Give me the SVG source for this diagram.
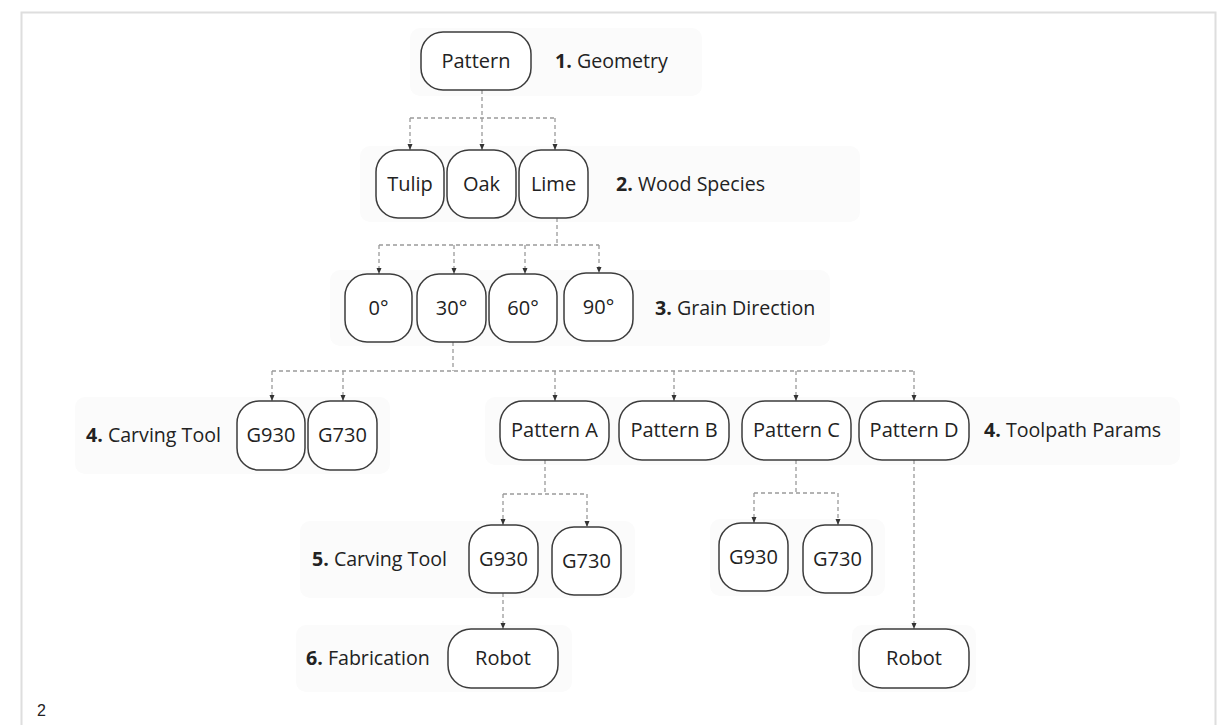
<svg xmlns="http://www.w3.org/2000/svg" width="1226" height="725" viewBox="0 0 1226 725">
<style>
.band{fill:#fbfbfb;}
.box{fill:#ffffff;stroke:#3c3c3c;stroke-width:1.5;}
.t{font-family:"Open Sans","Noto Sans",sans-serif;font-size:20px;fill:#222;text-anchor:middle;}
.lbl{font-family:"Open Sans","Noto Sans",sans-serif;font-size:19.6px;fill:#222;}
.lbl tspan.b{font-weight:bold;}
.c{fill:none;stroke:#9a9a9a;stroke-width:1.3;stroke-dasharray:4 3;}
.ca{fill:none;stroke:#9a9a9a;stroke-width:1.3;stroke-dasharray:4 3;marker-end:url(#ah);}
</style>
<defs>
<marker id="ah" viewBox="0 0 6 6" refX="6" refY="3" markerWidth="6" markerHeight="6" markerUnits="userSpaceOnUse" orient="auto">
<path d="M0,0.5 L6,3 L0,5.5 Z" fill="#333"/>
</marker>
</defs>
<rect x="0" y="0" width="1226" height="725" fill="#ffffff"/>
<path d="M21.5 725 V12.5 H1215.5 V725" fill="none" stroke="#dedede" stroke-width="2"/>
<g id="bands">
<rect class="band" x="410" y="28" width="292" height="68" rx="10"/>
<rect class="band" x="360" y="146" width="500" height="76" rx="10"/>
<rect class="band" x="330" y="270" width="500" height="76" rx="10"/>
<rect class="band" x="75" y="397" width="315" height="77" rx="10"/>
<rect class="band" x="485" y="397" width="695" height="68" rx="10"/>
<rect class="band" x="300" y="521" width="335" height="77" rx="10"/>
<rect class="band" x="710" y="519" width="175" height="77" rx="10"/>
<rect class="band" x="296" y="625" width="276" height="67" rx="10"/>
<rect class="band" x="852" y="625" width="124" height="67" rx="10"/>
</g>
<g id="connectors">
<path class="c" d="M482 90 V118 M410 118 H555"/>
<path class="ca" d="M410 118 V150"/>
<path class="ca" d="M482 118 V150"/>
<path class="ca" d="M555 118 V150"/>
<path class="c" d="M557 218 V245 M379 245 H599"/>
<path class="ca" d="M379 245 V274"/>
<path class="ca" d="M454 245 V274"/>
<path class="ca" d="M525 245 V274"/>
<path class="ca" d="M599 245 V273"/>
<path class="c" d="M453 342 V371 M272 371 H914"/>
<path class="ca" d="M272 371 V401"/>
<path class="ca" d="M343 371 V401"/>
<path class="ca" d="M555 371 V401"/>
<path class="ca" d="M674 371 V401"/>
<path class="ca" d="M796 371 V401"/>
<path class="ca" d="M914 371 V401"/>
<path class="c" d="M545 460 V494 M503 494 H587"/>
<path class="ca" d="M503 494 V525"/>
<path class="ca" d="M587 494 V527"/>
<path class="c" d="M796 460 V493 M754 493 H838"/>
<path class="ca" d="M754 493 V523"/>
<path class="ca" d="M838 493 V525"/>
<path class="ca" d="M503 593 V629"/>
<path class="ca" d="M914 460 V629"/>
</g>
<g id="n-pattern"><rect class="box" x="421" y="32" width="110" height="58" rx="22"/><text class="t" x="476" y="68">Pattern</text></g>
<g id="l-geometry"><text class="lbl" x="555" y="68"><tspan class="b">1.</tspan> Geometry</text></g>
<g id="n-tulip"><rect class="box" x="376" y="150" width="68" height="68" rx="22"/><text class="t" x="410" y="191">Tulip</text></g>
<g id="n-oak"><rect class="box" x="447" y="150" width="69" height="68" rx="22"/><text class="t" x="481.5" y="191">Oak</text></g>
<g id="n-lime"><rect class="box" x="519" y="150" width="69" height="68" rx="22"/><text class="t" x="553.5" y="191">Lime</text></g>
<g id="l-wood"><text class="lbl" x="616" y="191"><tspan class="b">2.</tspan> Wood Species</text></g>
<g id="n-0"><rect class="box" x="345" y="274" width="67" height="68" rx="22"/><text class="t" x="378.5" y="315">0°</text></g>
<g id="n-30"><rect class="box" x="417" y="274" width="69" height="68" rx="22"/><text class="t" x="451.5" y="315">30°</text></g>
<g id="n-60"><rect class="box" x="489" y="274" width="68" height="68" rx="22"/><text class="t" x="523" y="315">60°</text></g>
<g id="n-90"><rect class="box" x="564" y="273" width="69" height="68" rx="22"/><text class="t" x="598.5" y="314">90°</text></g>
<g id="l-grain"><text class="lbl" x="655" y="315"><tspan class="b">3.</tspan> Grain Direction</text></g>
<g id="l-carving4"><text class="lbl" x="86" y="442"><tspan class="b">4.</tspan> Carving Tool</text></g>
<g id="n-g930a"><rect class="box" x="237" y="401" width="68" height="69" rx="22"/><text class="t" x="271" y="442">G930</text></g>
<g id="n-g730a"><rect class="box" x="308" y="401" width="69" height="69" rx="22"/><text class="t" x="342.5" y="442">G730</text></g>
<g id="n-pa"><rect class="box" x="500" y="401" width="109" height="59" rx="23"/><text class="t" x="554.5" y="437">Pattern A</text></g>
<g id="n-pb"><rect class="box" x="619" y="401" width="110" height="59" rx="23"/><text class="t" x="674" y="437">Pattern B</text></g>
<g id="n-pc"><rect class="box" x="742" y="401" width="109" height="59" rx="23"/><text class="t" x="796.5" y="437">Pattern C</text></g>
<g id="n-pd"><rect class="box" x="859" y="401" width="110" height="59" rx="23"/><text class="t" x="914" y="437">Pattern D</text></g>
<g id="l-toolpath"><text class="lbl" x="984" y="437"><tspan class="b">4.</tspan> Toolpath Params</text></g>
<g id="l-carving5"><text class="lbl" x="312" y="566"><tspan class="b">5.</tspan> Carving Tool</text></g>
<g id="n-g930b"><rect class="box" x="469" y="525" width="69" height="68" rx="22"/><text class="t" x="503.5" y="566">G930</text></g>
<g id="n-g730b"><rect class="box" x="552" y="527" width="69" height="68" rx="22"/><text class="t" x="586.5" y="568">G730</text></g>
<g id="n-g930c"><rect class="box" x="719" y="523" width="69" height="68" rx="22"/><text class="t" x="753.5" y="564">G930</text></g>
<g id="n-g730c"><rect class="box" x="803" y="525" width="69" height="68" rx="22"/><text class="t" x="837.5" y="566">G730</text></g>
<g id="l-fab"><text class="lbl" x="306" y="665"><tspan class="b">6.</tspan> Fabrication</text></g>
<g id="n-robota"><rect class="box" x="448" y="629" width="110" height="59" rx="23"/><text class="t" x="503" y="665">Robot</text></g>
<g id="n-robotb"><rect class="box" x="859" y="629" width="110" height="59" rx="23"/><text class="t" x="914" y="665">Robot</text></g>
<text x="37" y="716" font-family="'Liberation Sans',Arial,sans-serif" font-size="16" fill="#222">2</text>
</svg>
